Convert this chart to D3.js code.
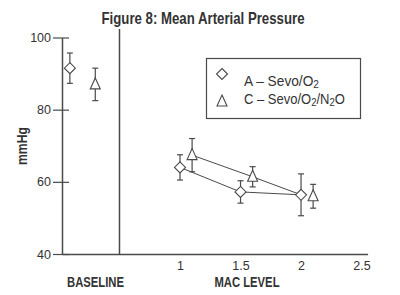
<!DOCTYPE html>
<html>
<head>
<meta charset="utf-8">
<script src="https://cdn.jsdelivr.net/npm/d3@7"></script>
<style>
  body { margin: 0; background: #fff; }
  svg { display: block; }
  text { font-family: "Liberation Sans Narrow", "Arial Narrow", "Liberation Sans", Arial, sans-serif; fill: #333; }
</style>
</head>
<body>
<svg id="chart" width="400" height="295"></svg>
<script>
// data
var seriesNames = [['A \u2013 Sevo/O', '2', ''], ['C \u2013 Sevo/O', '2', '/N', '2', 'O']];

// baseline readings (placed left of the divider)
var baseX = [0.09, 0.3];
var baseMean = [91.5, 87];
var baseErr = [4.2, 4.5];

// MAC level readings
var macA = [1, 1.5, 2];
var meanA = [64, 57.2, 56.4];
var errA = [3.5, 3.1, 5.8];

var macC = [1.1, 1.6, 2.1];
var meanC = [67.4, 61.4, 56];
var errC = [4.6, 2.8, 3.3];

var xTicks = [1, 1.5, 2, 2.5];
var yTicks = [40, 60, 80, 100];

var svg = d3.select('#chart');
var ink = '#4a4a4a';

var x = d3.scaleLinear().domain([0.025, 2.55]).range([62, 367.6]);
var y = d3.scaleLinear().domain([40, 100]).range([254, 37.5]);

// condensed look without a narrow font: squeeze to the measured width
function squeeze(sel, w) {
    sel.attr('textLength', w).attr('lengthAdjust', 'spacingAndGlyphs');
}

// title
svg.append('text')
    .attr('x', 203).attr('y', 24)
    .attr('text-anchor', 'middle')
    .style('font-size', '16.5px').style('font-weight', 'bold')
    .text('Figure 8: Mean Arterial Pressure')
    .call(squeeze, 203);

// y axis
var yAxis = svg.append('g')
    .attr('transform', 'translate(' + x.range()[0] + ',0)')
    .call(d3.axisLeft(y).tickValues(yTicks).tickSizeInner(8).tickSizeOuter(0).tickPadding(3));
yAxis.select('.domain').attr('stroke', ink).attr('stroke-width', 1.5);
yAxis.selectAll('.tick line').attr('x1', -9).attr('x2', 7).attr('stroke', ink).attr('stroke-width', 1.2);
yAxis.selectAll('.tick text').style('font-size', '12.5px').attr('fill', '#333')
    .style('font-family', '"Liberation Sans", Arial, sans-serif');

// x axis
var xAxis = svg.append('g')
    .attr('transform', 'translate(0,' + y(40) + ')')
    .call(d3.axisBottom(x).tickValues(xTicks).tickFormat(d3.format('')).tickSize(0).tickPadding(7.5));
xAxis.select('.domain').attr('stroke', ink).attr('stroke-width', 1.5);
xAxis.selectAll('.tick text').style('font-size', '12.5px').attr('fill', '#333')
    .style('font-family', '"Liberation Sans", Arial, sans-serif');

// divider between baseline and MAC section
svg.append('line')
    .attr('x1', x(0.5)).attr('x2', x(0.5))
    .attr('y1', 29).attr('y2', y(40))
    .attr('stroke', ink).attr('stroke-width', 1.5);

// axis titles
svg.append('text')
    .attr('x', 95.5).attr('y', 286.5)
    .attr('text-anchor', 'middle')
    .style('font-size', '15px').style('font-weight', 'bold')
    .text('BASELINE')
    .call(squeeze, 57);
svg.append('text')
    .attr('x', 247).attr('y', 286.5)
    .attr('text-anchor', 'middle')
    .style('font-size', '15px').style('font-weight', 'bold')
    .text('MAC LEVEL')
    .call(squeeze, 65);
svg.append('text')
    .attr('transform', 'translate(27,146) rotate(-90)')
    .attr('text-anchor', 'middle')
    .style('font-size', '14px').style('font-weight', 'bold')
    .text('mmHg')
    .call(squeeze, 38);

// connecting lines (the C line meets the A point at MAC 2 in the original)
var line = d3.line().x(function(d) { return x(d[0]); }).y(function(d) { return y(d[1]); });
var ptsA = d3.zip(macA, meanA);
var ptsC = d3.zip(macC, meanC).slice(0, 2).concat([ptsA[2]]);
svg.append('path').attr('d', line(ptsA)).attr('fill', 'none').attr('stroke', ink).attr('stroke-width', 1);
svg.append('path').attr('d', line(ptsC)).attr('fill', 'none').attr('stroke', ink).attr('stroke-width', 1);

var diamond = 'M0,-5.5L5.5,0L0,5.5L-5.5,0Z';
var triangle = 'M0,-6.5L5,4.5L-5,4.5Z';

function drawPoints(xs, means, errs, shape) {
    var g = svg.append('g');
    var pts = d3.range(xs.length).map(function(i) { return { x: xs[i], m: means[i], e: errs[i] }; });
    var p = g.selectAll('g').data(pts).enter().append('g');
    p.append('line')
        .attr('x1', function(d) { return x(d.x); }).attr('x2', function(d) { return x(d.x); })
        .attr('y1', function(d) { return y(d.m + d.e); }).attr('y2', function(d) { return y(d.m - d.e); })
        .attr('stroke', ink).attr('stroke-width', 1.2);
    [1, -1].forEach(function(s) {
        p.append('line')
            .attr('x1', function(d) { return x(d.x) - 3; }).attr('x2', function(d) { return x(d.x) + 3; })
            .attr('y1', function(d) { return y(d.m + s * d.e); }).attr('y2', function(d) { return y(d.m + s * d.e); })
            .attr('stroke', ink).attr('stroke-width', 1.2);
    });
    p.append('path')
        .attr('d', shape)
        .attr('transform', function(d) { return 'translate(' + x(d.x) + ',' + y(d.m) + ')'; })
        .attr('fill', '#fff').attr('stroke', ink).attr('stroke-width', 1.1);
}

drawPoints([baseX[0]].concat(macA), [baseMean[0]].concat(meanA), [baseErr[0]].concat(errA), diamond);
drawPoints([baseX[1]].concat(macC), [baseMean[1]].concat(meanC), [baseErr[1]].concat(errC), triangle);

// legend
var leg = svg.append('g');
leg.append('rect')
    .attr('x', 206.5).attr('y', 58.5).attr('width', 154).attr('height', 60)
    .attr('fill', '#fff').attr('stroke', ink).attr('stroke-width', 1.2);
var shapes = [diamond, triangle];
var legWidths = [75, 101];
var legMark = [74, 101.5];
var legBase = [85.7, 103.5];
seriesNames.forEach(function(parts, i) {
    leg.append('path').attr('d', shapes[i])
        .attr('transform', 'translate(222,' + legMark[i] + ')')
        .attr('fill', '#fff').attr('stroke', ink).attr('stroke-width', 1.1);
    // squeeze the whole entry horizontally with a transform so the subscripts stay in step
    var g = leg.append('g');
    var t = g.append('text')
        .attr('x', 0).attr('y', 0)
        .style('font-size', '15px');
    parts.forEach(function(s, j) {
        if (!s) return;
        var sub = j % 2 === 1;
        t.append('tspan')
            .style('font-size', sub ? '11px' : '15px')
            .attr('dy', sub ? 2 : (j > 0 ? -2 : 0))
            .text(s);
    });
    var natural = t.node().getComputedTextLength();
    g.attr('transform', 'translate(244,' + legBase[i] + ') scale(' + (legWidths[i] / natural) + ',1)');
});
</script>
</body>
</html>
